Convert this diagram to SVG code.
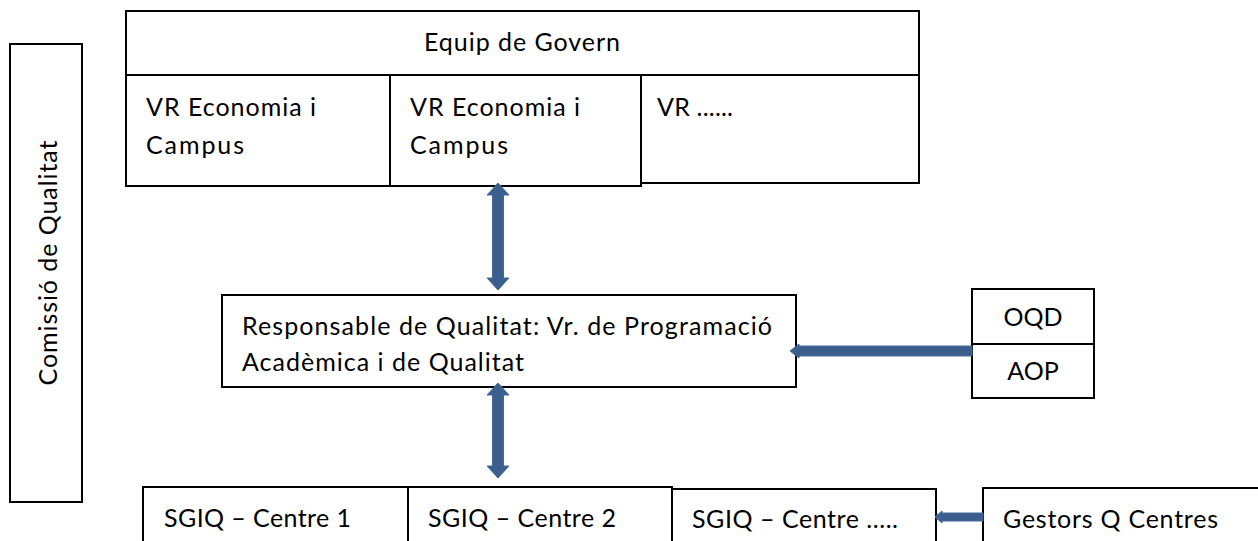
<svg xmlns="http://www.w3.org/2000/svg" width="1258" height="541" viewBox="0 0 1258 541">
<defs>
<style>
.box{fill:#fff;stroke:#000;stroke-width:2}
.t{font-family:Lato,"Open Sans","Liberation Sans",sans-serif;font-size:25px;fill:#000}
.c{text-anchor:middle}
.ar{fill:#3B5E8C;stroke:#44699B;stroke-width:1}
</style>
</defs>
<rect width="1258" height="541" fill="#fff"/>
<g id="comissio">
<rect class="box" x="10" y="44" width="72" height="458"/>
<text class="t c" transform="translate(57,263) rotate(-90)" textLength="245">Comissió de Qualitat</text>
</g>
<g id="equip">
<rect class="box" x="126" y="11" width="793" height="64"/>
<text class="t c" x="522" y="51" textLength="196">Equip de Govern</text>
</g>
<g id="vr1">
<rect class="box" x="126" y="75" width="264" height="111"/>
<text class="t" x="146" y="116" textLength="170">VR Economia i</text>
<text class="t" x="146" y="154" textLength="98">Campus</text>
</g>
<g id="vr2">
<rect class="box" x="390" y="75" width="251" height="111"/>
<text class="t" x="410" y="116" textLength="170">VR Economia i</text>
<text class="t" x="410" y="154" textLength="98">Campus</text>
</g>
<g id="vr3">
<rect class="box" x="641" y="75" width="278" height="108"/>
<text class="t" x="657" y="116" textLength="76">VR ......</text>
</g>
<g id="responsable">
<rect class="box" x="222" y="295" width="574" height="92"/>
<text class="t" x="242" y="335" textLength="530">Responsable de Qualitat: Vr. de Programació</text>
<text class="t" x="242" y="371" textLength="282">Acadèmica i de Qualitat</text>
</g>
<g id="oqd">
<rect class="box" x="972" y="289" width="122" height="55"/>
<text class="t c" x="1033" y="326">OQD</text>
</g>
<g id="aop">
<rect class="box" x="972" y="344" width="122" height="54"/>
<text class="t c" x="1033" y="380">AOP</text>
</g>
<g id="sgiq1">
<rect class="box" x="143" y="487" width="265" height="70"/>
<text class="t" x="164" y="527" textLength="187">SGIQ – Centre 1</text>
</g>
<g id="sgiq2">
<rect class="box" x="408" y="487" width="264" height="70"/>
<text class="t" x="428" y="527" textLength="188">SGIQ – Centre 2</text>
</g>
<g id="sgiq3">
<rect class="box" x="672" y="489" width="264" height="70"/>
<text class="t" x="692" y="528" textLength="206">SGIQ – Centre .....</text>
</g>
<g id="gestors">
<rect class="box" x="983" y="488" width="300" height="70"/>
<text class="t" x="1003" y="528" textLength="215">Gestors Q Centres</text>
</g>
<g id="connectors">
<polygon class="ar" points="498,183 509,195 503.5,195 503.5,278 509,278 498,290 487,278 492.5,278 492.5,195 487,195"/>
<polygon class="ar" points="498,383 509,395 503.5,395 503.5,466 509,466 498,478 487,466 492.5,466 492.5,395 487,395"/>
<polygon class="ar" points="790,351 799,344 799,346 972,346 972,356 799,356 799,358"/>
<polygon class="ar" points="935,517 942,511 942,513 983,513 983,521 942,521 942,523"/>
</g>
</svg>
